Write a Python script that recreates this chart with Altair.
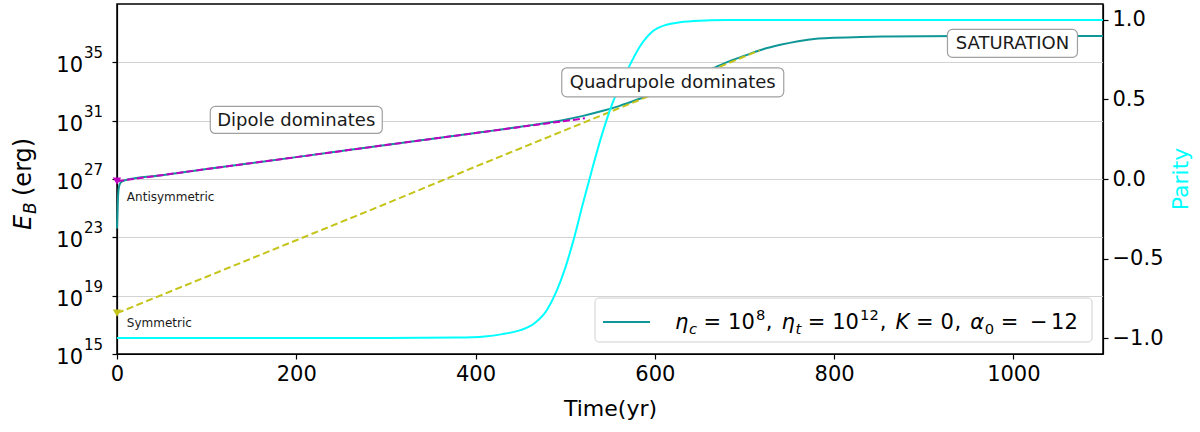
import altair as alt
import pandas as pd

# ---------------- data ----------------
# total magnetic energy (log10 E_B in erg) vs time (yr)
total_t = [0, 1, 2, 4, 8, 50, 100, 200, 300, 400, 450, 500, 520, 540, 560, 580,
           600, 620, 640, 660, 680, 700, 720, 740, 760, 780, 800, 830, 860, 900,
           950, 1000, 1100]
total_logE = [23.6, 25.6, 26.4, 26.75, 26.9, 27.26, 27.68, 28.5, 29.33, 30.15,
              30.58, 31.07, 31.33, 31.64, 32.0, 32.43, 32.9, 33.4, 33.9, 34.45,
              35.0, 35.45, 35.88, 36.2, 36.45, 36.62, 36.68, 36.74, 36.77, 36.79,
              36.8, 36.8, 36.8]

# antisymmetric (dipole) energy
dipole_t = [0, 100, 200, 300, 400, 450, 500, 522]
dipole_logE = [26.85, 27.68, 28.5, 29.33, 30.15, 30.57, 30.98, 31.16]

# symmetric (quadrupole) energy
quad_t = [0, 100, 200, 300, 400, 500, 600, 700, 717]
quad_logE = [17.8, 20.3, 22.8, 25.3, 27.85, 30.35, 32.85, 35.4, 35.82]

# parity
parity_t = [0, 300, 380, 410, 430, 450, 465, 480, 490, 500, 510, 520, 530, 540,
            553, 569, 583, 598, 613, 628, 650, 680, 720, 1100]
parity_v = [-1.0, -1.0, -0.997, -0.99, -0.975, -0.95, -0.91, -0.82, -0.71, -0.56,
            -0.37, -0.15, 0.06, 0.26, 0.48, 0.68, 0.83, 0.93, 0.97, 0.985, 0.995,
            0.999, 1.0, 1.0]

# axis ticks
x_ticks = [0, 200, 400, 600, 800, 1000]
y_tick_exponents = [15, 19, 23, 27, 31, 35]
parity_ticks = [-1.0, -0.5, 0.0, 0.5, 1.0]

# annotations
ann_labels = ["Dipole dominates", "Quadrupole dominates", "SATURATION"]
ann_t = [200, 620, 999]
ann_logE = [31.05, 33.63, 36.3]
small_labels = ["Antisymmetric", "Symmetric"]
small_t = [11, 11]
small_logE = [25.8, 17.1]

legend_label = "η_c = 10^8, η_t = 10^12, K = 0, α_0 = −12"

# ---------------- helpers ----------------
FONT = "DejaVu Sans"
W, H = 986, 350
OX, OY = 117, 4  # plot origin in page pixels

X = alt.X("t:Q", scale=alt.Scale(domain=[0, 1100], nice=False, zero=False),
          axis=alt.Axis(values=x_ticks, format="d", title="Time(yr)", grid=False,
                        labelPadding=4, titlePadding=14, labelFlush=False))


def Ye(field, axis=None):
    return alt.Y(f"{field}:Q",
                 scale=alt.Scale(domain=[15, 39], nice=False, zero=False),
                 axis=axis)


left_axis = alt.Axis(values=y_tick_exponents, labels=False, title=None,
                     grid=True, gridColor="#d3d3d3", gridWidth=1, labelFlush=False)

df_total = pd.DataFrame({"t": total_t, "logE": total_logE})
df_dip = pd.DataFrame({"t": dipole_t, "logE": dipole_logE})
df_quad = pd.DataFrame({"t": quad_t, "logE": quad_logE})
df_par = pd.DataFrame({"t": parity_t, "parity": parity_v})
df_mark = pd.DataFrame({"t": [dipole_t[0], quad_t[0]],
                        "logE": [dipole_logE[0], quad_logE[0]],
                        "c": ["m", "y"]})

teal = "#0f9696"
magenta = "#c000c0"
olive = "#c4c41a"
cyan = "#00ffff"

layers = []
layers.append(alt.Chart(df_total).mark_line(color=teal, strokeWidth=2,
                                            interpolate="monotone").encode(
    x=X, y=Ye("logE", left_axis)))
layers.append(alt.Chart(df_dip).mark_line(color=magenta, strokeWidth=2,
                                          strokeDash=[7, 3]).encode(x=X, y=Ye("logE")))
layers.append(alt.Chart(df_quad).mark_line(color=olive, strokeWidth=2,
                                           strokeDash=[7, 3.5]).encode(x=X, y=Ye("logE")))
layers.append(alt.Chart(df_mark).mark_point(shape="triangle-down", filled=True, size=70,
                                            opacity=1).encode(
    x=X, y=Ye("logE"),
    color=alt.Color("c:N", scale=alt.Scale(domain=["m", "y"], range=[magenta, olive]),
                    legend=None)))
layers.append(alt.Chart(df_par).mark_line(color=cyan, strokeWidth=2,
                                          interpolate="monotone").encode(
    x=X,
    y=alt.Y("parity:Q", scale=alt.Scale(domain=[-1.1, 1.1], nice=False, zero=False),
            axis=alt.Axis(orient="right", values=parity_ticks, format=".1f",
                          title=None, grid=False, labelPadding=4, labelFlush=False))))

# left tick labels 10^n drawn as text (base + raised exponent)
df_ytl = pd.DataFrame({"logE": y_tick_exponents,
                       "base": ["10"] * len(y_tick_exponents),
                       "exp": [str(e) for e in y_tick_exponents]})
layers.append(alt.Chart(df_ytl).mark_text(
    font=FONT, fontSize=21, align="right", baseline="alphabetic", color="black",
    dy=10).encode(x=alt.value(83 - OX), y=Ye("logE"), text="base:N"))
layers.append(alt.Chart(df_ytl).mark_text(
    font=FONT, fontSize=15, align="left", baseline="alphabetic", color="black",
    dy=-4).encode(x=alt.value(84 - OX), y=Ye("logE"), text="exp:N"))

# annotation boxes (text with rounded frame)
half_w = [86, 111, 65]
half_h = [13.5, 14.5, 14]
for lab, t, le, hw, hh in zip(ann_labels, ann_t, ann_logE, half_w, half_h):
    d = pd.DataFrame({"t": [t], "logE": [le], "label": [lab]})
    layers.append(alt.Chart(d).mark_rect(
        fill="white", stroke="#a0a0a0", strokeWidth=1.2, cornerRadius=5,
        xOffset=-hw, x2Offset=hw, yOffset=-hh, y2Offset=hh).encode(
        x=X, x2="t:Q", y=Ye("logE"), y2="logE:Q"))
    layers.append(alt.Chart(d).mark_text(
        font=FONT, fontSize=18, color="#1a1a1a", baseline="middle", align="center",
        dy=1).encode(x=X, y=Ye("logE"), text="label:N"))

df_small = pd.DataFrame({"t": small_t, "logE": small_logE, "label": small_labels})
layers.append(alt.Chart(df_small).mark_text(
    font=FONT, fontSize=12, color="#1a1a1a", align="left", baseline="middle").encode(
    x=X, y=Ye("logE"), text="label:N"))

# ---------------- manual legend ----------------
one = pd.DataFrame({"a": [0]})
lx0, lx1, ly0, ly1 = 595 - OX, 1092 - OX, 298 - OY, 342 - OY
layers.append(alt.Chart(one).mark_rect(fill="white", stroke="#cccccc", strokeWidth=1,
                                       cornerRadius=4, opacity=0.9).encode(
    x=alt.value(lx0), x2=alt.value(lx1), y=alt.value(ly0), y2=alt.value(ly1)))
layers.append(alt.Chart(one).mark_rule(color=teal, strokeWidth=2).encode(
    x=alt.value(603 - OX), x2=alt.value(650 - OX), y=alt.value(322 - OY)))

F = 21
# (text, kind, advance in em of full size font)
pieces = [
    ("η", "it", 0.634), ("c", "subit", 0.55 * 0.7), (None, "gap", 0.28),
    ("=", "rm", 0.838), (None, "gap", 0.28), ("10", "rm", 1.272),
    ("8", "sup", 0.636 * 0.7), (",", "rm", 0.318), (None, "gap", 0.40),
    ("η", "it", 0.634), ("t", "subit", 0.392 * 0.7), (None, "gap", 0.28),
    ("=", "rm", 0.838), (None, "gap", 0.28), ("10", "rm", 1.272),
    ("12", "sup", 1.272 * 0.7), (",", "rm", 0.318), (None, "gap", 0.40),
    ("K", "it", 0.656), (None, "gap", 0.28), ("=", "rm", 0.838),
    (None, "gap", 0.28), ("0", "rm", 0.636), (",", "rm", 0.318),
    (None, "gap", 0.40), ("α", "it", 0.659), ("0", "sub", 0.636 * 0.7),
    (None, "gap", 0.28), ("=", "rm", 0.838), (None, "gap", 0.5),
    ("−", "rm", 0.838), (None, "gap", 0.12), ("12", "rm", 1.272),
]
total_em = sum(p[2] for p in pieces)
span = 1079 - 675
scale = span / (total_em * F)
base_y = 329 - OY
rows = []
cx = 675 - OX
for txt, kind, em in pieces:
    if txt is not None:
        size = F if kind in ("it", "rm") else F * 0.7
        dy = 0
        if kind in ("sub", "subit"):
            dy = 5
        elif kind == "sup":
            dy = -9
        rows.append({"x": cx, "y": base_y + dy, "txt": txt, "size": size,
                     "italic": kind in ("it", "subit")})
    cx += em * F * scale
leg = pd.DataFrame(rows)
for it_flag in (True, False):
    sub = leg[leg["italic"] == it_flag]
    layers.append(alt.Chart(sub).mark_text(
        font=FONT, fontStyle="italic" if it_flag else "normal", align="left",
        baseline="alphabetic", color="black").encode(
        x=alt.X("x:Q", scale=None), y=alt.Y("y:Q", scale=None), text="txt:N",
        size=alt.Size("size:Q", scale=None, legend=None)))

# ---------------- manual axis titles ----------------
layers.append(alt.Chart(one).mark_text(
    text="E", font=FONT, fontStyle="italic", fontSize=24, angle=270, align="left",
    baseline="alphabetic", color="black").encode(x=alt.value(31 - OX), y=alt.value(230 - OY)))
layers.append(alt.Chart(one).mark_text(
    text="B", font=FONT, fontStyle="italic", fontSize=17, angle=270, align="left",
    baseline="alphabetic", color="black").encode(x=alt.value(36 - OX), y=alt.value(214 - OY)))
layers.append(alt.Chart(one).mark_text(
    text="(erg)", font=FONT, fontSize=24, angle=270, align="left",
    baseline="alphabetic", color="black").encode(x=alt.value(31 - OX), y=alt.value(196 - OY)))
layers.append(alt.Chart(one).mark_text(
    text="Parity", font=FONT, fontSize=22, angle=270, align="center",
    baseline="alphabetic", color=cyan).encode(x=alt.value(1188 - OX), y=alt.value(179 - OY)))

chart = alt.layer(*layers).resolve_scale(y="independent").properties(
    width=W, height=H,
    autosize=alt.AutoSizeParams(type="none"),
    padding={"left": OX, "top": OY, "right": 1200 - OX - W, "bottom": 432 - OY - H},
    background="white",
).configure_axis(
    labelFont=FONT, titleFont=FONT, labelFontSize=21, titleFontSize=22,
    labelColor="black", titleColor="black", tickColor="black", domainColor="black",
    tickSize=5, tickWidth=1.2, domainWidth=1.2, titleFontWeight="normal",
).configure_view(stroke="black", strokeWidth=1.5)

chart.save("out.html", embed_options={"renderer": "svg", "actions": False})
